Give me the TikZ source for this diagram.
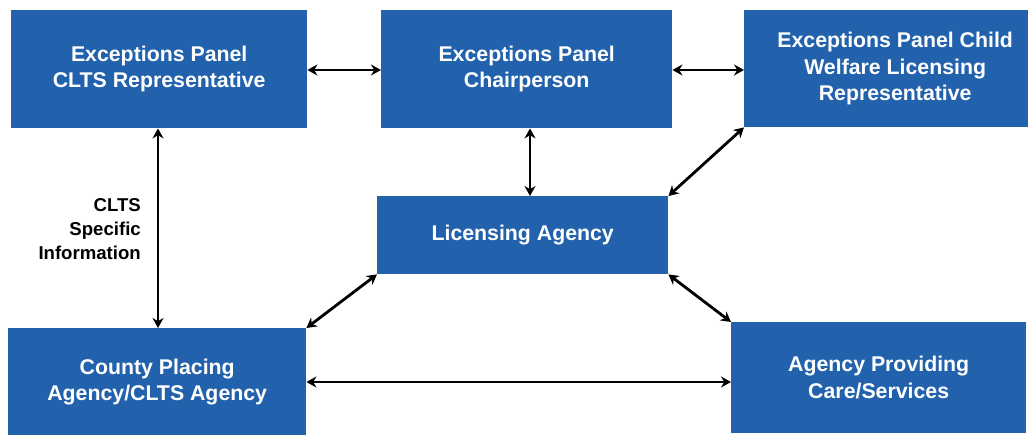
\documentclass[tikz,border=0pt]{standalone}
\usepackage{fontspec}
\setmainfont{Liberation Sans}
\usetikzlibrary{arrows.meta,calc}
\definecolor{boxblue}{RGB}{34,98,172}
\begin{document}
\begin{tikzpicture}[x=1pt,y=-1pt,
  box/.style={fill=boxblue, draw=none, text=white, font=\bfseries\fontsize{21.3}{26.5}\selectfont, align=center, anchor=north west, inner sep=0pt},
  link/.style={line width=2.8pt, {Stealth[length=10pt,width=11pt]}-{Stealth[length=10pt,width=11pt]}},
  lbl/.style={font=\bfseries\fontsize{18.6}{24}\selectfont, align=right, anchor=east, inner sep=0pt}]
\useasboundingbox (0,0) rectangle (1028,435);
\begin{scope}
\clip (0,0) rectangle (1028,435);
\node[box, minimum width=296pt, minimum height=118pt] (A) at (11,10) {Exceptions Panel\\CLTS Representative};
\node[box, minimum width=291pt, minimum height=118pt] (B) at (381,10) {Exceptions Panel\\Chairperson};
\node[box, minimum width=302pt, minimum height=117pt] (C) at (744,10) {Exceptions Panel Child\\Welfare Licensing\\Representative};
\node[box, minimum width=291pt, minimum height=78pt] (D) at (377,196) {Licensing Agency};
\node[box, minimum width=298pt, minimum height=108pt] (E) at (8,328) {County Placing\\Agency/CLTS Agency};
\node[box, minimum width=295pt, minimum height=111pt] (F) at (731,322) {Agency Providing\\Care/Services};
\end{scope}
\node[lbl] (L) at (141,229) {CLTS\\Specific\\Information};
\draw[link] (A.east |- 0,70) -- (B.west |- 0,70);
\draw[link] (B.east |- 0,70) -- (C.west |- 0,70);
\draw[link] (A.south -| 158,0) -- (E.north -| 158,0);
\draw[link] (B.south -| 530,0) -- (D.north -| 530,0);
\draw[link] (C.south west) -- (D.north east);
\draw[link] (D.south west) -- (E.north east);
\draw[link] (D.south east) -- (F.north west);
\draw[link] (E.east |- 0,382) -- (F.west |- 0,382);
\end{tikzpicture}
\end{document}
